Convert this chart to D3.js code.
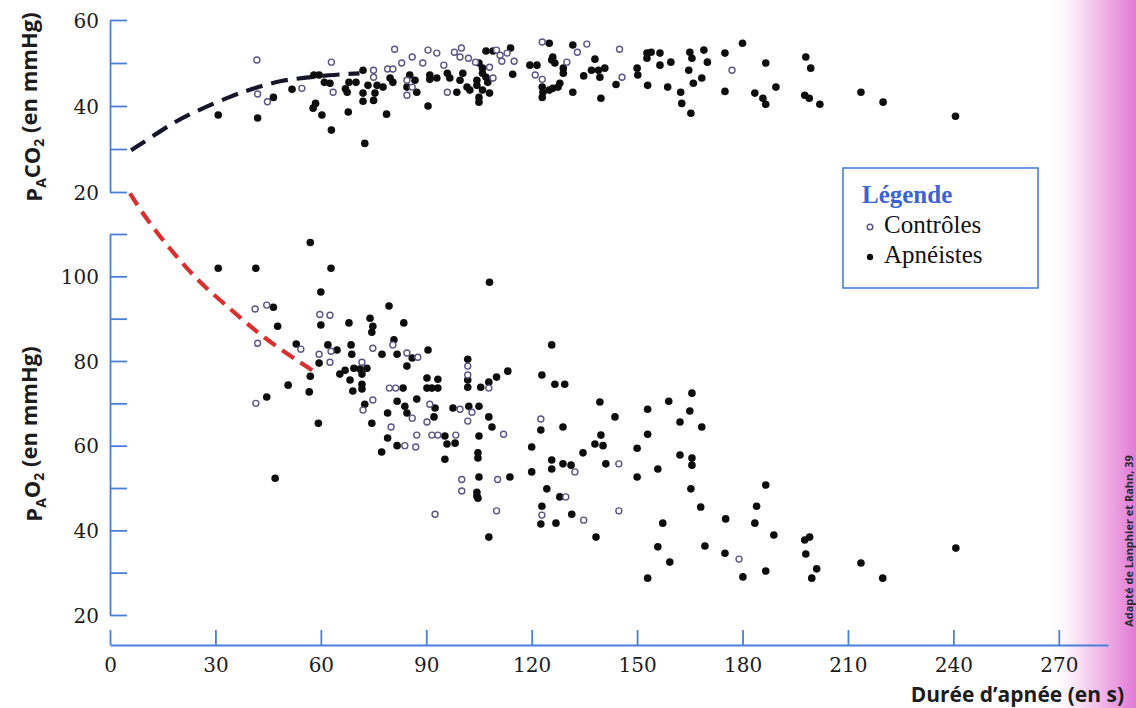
<!DOCTYPE html>
<html lang="fr">
<head>
<meta charset="utf-8">
<title>PACO2 et PAO2 selon la durée d'apnée</title>
<script src="https://cdn.jsdelivr.net/npm/d3@7"></script>
<style>
  body { margin: 0; background: #fff; }
  svg { display: block; }
  .axis path, .axis line { stroke: #4a7fdc; stroke-width: 1.8; }
  .axis text { font-family: "DejaVu Serif", serif; font-size: 20px; fill: #1c1c1c; }
  .title { font-family: "Open Sans", sans-serif; font-weight: 700; fill: #1c1c1c; }
  .legend text { font-family: "Liberation Serif", serif; font-size: 25px; fill: #111; }
  .legend .legend-head { fill: #3a63d6; font-weight: 700; }
  .credit { font-family: "Open Sans", sans-serif; font-weight: 700; font-size: 11px; fill: #2a2a2a; }
</style>
</head>
<body>
<div id="chart"></div>
<script>
// ticks
const timeTicks = [0, 30, 60, 90, 120, 150, 180, 210, 240, 270];
const co2Ticks = [20, 30, 40, 50, 60];
const co2Labels = [20, 40, 60];
const o2Ticks = [20, 30, 40, 50, 60, 70, 80, 90, 100, 110];
const o2Labels = [20, 40, 60, 80, 100];

// fitted curves [s, mmHg]
const co2Fit = [[6, 29.7], [11, 32.3], [18, 36.2], [25, 39], [35, 42.5], [42, 44.4], [49, 46], [55, 46.5], [62, 47.2], [71, 47.6]];
const o2Fit = [[5.7, 119.6], [10.5, 113.3], [18, 105.5], [25.6, 98.4], [34, 92.5], [40.4, 87.8], [47, 83.6], [54.6, 79.4], [59.2, 76.9]];

// PACO2 [s, mmHg]
const co2Controls = [
  [41.8, 50.7], [42, 42.8], [44.8, 41], [54.6, 44.1], [63, 50.2], [63.5, 43.2], [81, 53.2], [75, 48.3],
  [79, 48.6], [80.5, 48.6], [75, 46.7], [83, 50], [86, 51.4], [89, 50], [90.5, 53], [93, 52.3], [95, 49.5],
  [98, 52.5], [100, 53.5], [99.6, 51.4], [102, 51.1], [104, 50.2], [113, 52.3], [115, 50.4], [108, 49],
  [109, 46.5], [84.5, 46], [86, 44.4], [84.5, 42.5], [96, 43.2], [110, 53], [111, 51.8], [111.5, 50.4],
  [121, 47.2], [123, 46.2], [123, 54.9], [133, 52.5], [135.7, 54.4], [145, 53.2], [130, 50.2],
  [145.7, 46.7], [177, 48.3]
];
const co2Apneists = [
  [30.8, 37.9], [42, 37.2], [46.5, 42], [51.8, 43.9], [57.8, 39.5], [58.5, 40.6], [60.3, 37.9], [63, 34.4],
  [67.8, 38.6], [72.5, 31.3], [78.7, 38.1], [72, 41.1], [75, 41.3], [90.5, 40], [105, 40.9], [105, 42],
  [114.6, 47.4], [58, 47.2], [59.5, 47.2], [61, 45.5], [62.6, 45.3], [68, 45.5], [70, 45.5], [67, 44],
  [67.5, 43.2], [72, 48.3], [72, 43], [73.4, 44.8], [76, 44.8], [77.7, 44.4], [75.4, 43], [79.7, 46.5],
  [80.5, 45.5], [84.5, 44.4], [85.3, 47.2], [86.8, 46], [87.3, 43.2], [91, 47.2], [91, 46.2], [93, 46.5],
  [96, 47.6], [96.7, 46.5], [98.7, 43.2], [99.6, 46], [100.4, 47.6], [101.6, 44.4], [102.4, 43.7],
  [104.4, 44.8], [104.4, 46], [106, 47.6], [106, 48.8], [107, 46.7], [107.5, 45.5], [108, 43], [106, 43.7],
  [107, 52.8], [109, 52.8], [114, 53.5], [105, 50], [119.5, 49.5], [121.5, 49.5], [125, 54.6],
  [131.7, 54.2], [126, 51.4], [126.6, 50], [125.7, 50.7], [129, 48.8], [129, 47.6], [123, 44.4],
  [123.2, 43.2], [123, 42], [125, 43.7], [126, 44.1], [128, 45.3], [127.5, 44.4], [131.7, 43.2],
  [134.8, 47], [138, 50.9], [137, 48.3], [139, 48.3], [140.8, 48.8], [139.4, 46.7], [139.7, 41.8],
  [144, 45], [150, 48.8], [150.2, 47.2], [152.8, 52.3], [154, 52.5], [156.5, 52.3], [152.8, 51.1],
  [156.5, 49.5], [153, 44.8], [159.6, 50.2], [158.7, 44.4], [165, 52.5], [165.6, 51.1], [164.7, 48.3],
  [166, 45.3], [162.4, 43.2], [162.7, 40.6], [165.3, 38.3], [169, 53], [170, 50.2], [168.4, 46.5],
  [175, 52.3], [175, 43.4], [180, 54.6], [183.5, 43], [185.8, 41.8], [186.6, 40.4], [186.6, 50],
  [189.5, 44.4], [198, 51.4], [199.4, 48.8], [197.7, 42.5], [199, 41.8], [202, 40.4], [213.7, 43.2],
  [220, 40.9], [240.6, 37.6]
];

// PAO2 [s, mmHg]
const o2Controls = [
  [41.3, 92.3], [44.6, 93.2], [42, 84.2], [54.3, 82.8], [41.5, 70], [59.7, 91], [62.6, 90.8], [62.9, 82.3],
  [59.5, 81.6], [62.6, 79.7], [74.8, 83], [71.7, 79.7], [79.5, 73.6], [81.3, 73.6], [74.8, 70.8], [72, 68.4],
  [80, 64.4], [80.5, 83.8], [84.5, 81.9], [87.6, 80.9], [86, 66.5], [91, 69.8], [90.2, 65.6], [99.6, 68.6],
  [101.8, 78.8], [101.8, 76.7], [107.8, 73.6], [103, 67.9], [101.8, 65.8], [83.9, 60], [87.3, 62.5],
  [87, 59.7], [91.6, 62.5], [93.3, 62.5], [98.4, 62.5], [112, 62.7], [122.6, 66.3], [100.1, 52],
  [110.3, 52], [100.1, 49.3], [110, 44.6], [92.5, 43.8], [129.7, 47.9], [122.9, 43.6], [134.8, 42.4],
  [132.3, 53.8], [144.8, 55.7], [144.8, 44.6], [179, 33.2]
];
const o2Apneists = [
  [30.8, 101.9], [41.5, 101.9], [57, 108], [62.9, 101.9], [60, 96.3], [46.5, 92.7], [47.7, 88.2], [53, 84],
  [50.7, 74.3], [44.6, 71.5], [56.7, 72.7], [59.3, 65.3], [60, 88.5], [62, 83.8], [64.6, 82.6], [59.5, 79.5],
  [57, 76.4], [65.4, 76.9], [66.9, 77.8], [68, 89], [68.6, 83.8], [68.8, 81.6], [68.3, 75.5], [69.1, 72.9],
  [74, 90.1], [74.8, 88.2], [74.5, 86.8], [79.4, 93], [69.4, 78.3], [71.1, 78.1], [73.1, 78.3], [71.7, 76.9],
  [71.7, 74.5], [71.7, 73.4], [72.5, 69.8], [79, 67.7], [74.5, 65.3], [79, 61.8], [77.3, 58.5], [81.7, 60],
  [47, 52.3], [83.6, 89], [80.8, 85], [77.4, 81.6], [81.7, 81.6], [86, 80.7], [90.5, 82.6], [84.5, 78.8],
  [83.4, 73.6], [90.2, 76], [93.3, 75.7], [90.2, 73.6], [91.6, 73.6], [93.3, 73.6], [81.7, 70.5],
  [83.9, 69.3], [84.5, 67.7], [87.3, 71], [92.5, 68.9], [92.2, 66.8], [97.6, 68.9], [101.8, 80.4],
  [101.8, 75.5], [101.8, 73.8], [105.5, 73.8], [107.8, 75], [110, 76.2], [113.2, 77.6], [102.1, 69.3],
  [105, 69.3], [107.8, 66.8], [108.7, 64.4], [95.3, 62.3], [95.9, 60.4], [98.2, 60.6], [95.3, 56.8],
  [105, 62.3], [104.7, 58.3], [104.7, 57.1], [108, 98.6], [125.7, 83.8], [122.9, 76.7], [126.6, 74.5],
  [129.4, 74.5], [122.6, 63.7], [128.9, 64.4], [120, 59.7], [139.4, 70.3], [143.7, 66.8], [139.7, 62.5],
  [138, 60.4], [140.3, 60], [134.6, 58.3], [125.7, 56.6], [125.7, 54.5], [128.9, 55.7], [131.2, 55.4],
  [120, 53.8], [141.1, 55.7], [150, 59.4], [153, 68.6], [153, 62.7], [159, 70.5], [162.2, 65.6],
  [165.6, 72.4], [165, 68.2], [168.4, 64.4], [162.2, 57.8], [165.6, 57.1], [165.6, 55.4], [155.9, 54.5],
  [150, 52.6], [105, 52.6], [113.8, 52.6], [104.4, 49], [104.4, 48.1], [104.7, 47.6], [107.8, 38.4],
  [124.3, 49.8], [128, 47.9], [122.9, 45.7], [122.6, 41.5], [126.9, 41.7], [131.4, 43.8], [138.3, 38.4],
  [157.3, 41.7], [155.9, 36.1], [159.3, 32.5], [153, 28.7], [165.3, 49.8], [168.1, 45.5], [169.3, 36.3],
  [175.2, 42.7], [175, 34.6], [180.1, 29], [186.6, 50.7], [184, 45.7], [183.5, 41.7], [188.9, 38.9],
  [186.6, 30.4], [197.7, 37.7], [199.1, 38.4], [198, 34.4], [201.1, 30.9], [199.7, 28.7], [213.7, 32.3],
  [219.9, 28.7], [240.7, 35.8]
];

// dimensions
const WIDTH = 1136;
const HEIGHT = 708;
const X_AXIS_Y = 645;
const TICK = 17;

// scales
const scaleX = d3.scaleLinear().domain([0, 284]).range([110, 1108]);
const scaleCO2 = d3.scaleLinear().domain([20, 60]).range([192, 20]);
const scaleO2 = d3.scaleLinear().domain([20, 110]).range([615, 234]);

const $svg = d3.select("#chart").append("svg")
  .attr("width", WIDTH)
  .attr("height", HEIGHT);

// page edge tint
const $grad = $svg.append("defs").append("linearGradient")
  .attr("id", "edge").attr("x1", 0).attr("x2", 1).attr("y1", 0).attr("y2", 0);
$grad.append("stop").attr("offset", "0%").attr("stop-color", "#fff").attr("stop-opacity", 0);
$grad.append("stop").attr("offset", "45%").attr("stop-color", "#f6d2ef").attr("stop-opacity", 1);
$grad.append("stop").attr("offset", "100%").attr("stop-color", "#e27ad6");
$svg.append("rect").attr("x", 1045).attr("y", 0).attr("width", WIDTH - 1045).attr("height", HEIGHT)
  .attr("fill", "url(#edge)");

// axes
const fmt = labels => d => (labels.includes(d) ? d : "");

$svg.append("g").attr("class", "axis")
  .attr("transform", "translate(110,0)")
  .call(d3.axisLeft(scaleCO2).tickValues(co2Ticks).tickSizeInner(-TICK).tickSizeOuter(0)
    .tickPadding(11).tickFormat(fmt(co2Labels)));

$svg.append("g").attr("class", "axis")
  .attr("transform", "translate(110,0)")
  .call(d3.axisLeft(scaleO2).tickValues(o2Ticks).tickSizeInner(-TICK).tickSizeOuter(0)
    .tickPadding(11).tickFormat(fmt(o2Labels)));

$svg.selectAll(".axis .tick text").attr("dy", "0.36em");

$svg.append("g").attr("class", "axis")
  .attr("transform", `translate(0,${X_AXIS_Y})`)
  .call(d3.axisBottom(scaleX).tickValues(timeTicks).tickSizeInner(-15).tickSizeOuter(0).tickPadding(13));

// fitted curves
const line = (sy) => d3.line().x(d => scaleX(d[0])).y(d => sy(d[1])).curve(d3.curveBasis);

$svg.append("path").datum(co2Fit)
  .attr("d", line(scaleCO2))
  .attr("fill", "none").attr("stroke", "#16162a").attr("stroke-width", 4.2)
  .attr("stroke-dasharray", "17 9");

$svg.append("path").datum(o2Fit)
  .attr("d", line(scaleO2))
  .attr("fill", "none").attr("stroke", "#d8302e").attr("stroke-width", 4.2)
  .attr("stroke-dasharray", "14 8");

// points
function drawPoints(data, sy, open) {
  $svg.append("g").selectAll("circle")
    .data(data)
    .join("circle")
    .attr("cx", d => scaleX(d[0]))
    .attr("cy", d => sy(d[1]))
    .attr("r", open ? 3 : 3.8)
    .attr("fill", open ? "#fff" : "#0d0d0d")
    .attr("stroke", open ? "#5b5485" : "none")
    .attr("stroke-width", open ? 1.4 : 0);
}
drawPoints(co2Apneists, scaleCO2, false);
drawPoints(co2Controls, scaleCO2, true);
drawPoints(o2Apneists, scaleO2, false);
drawPoints(o2Controls, scaleO2, true);

// axis titles
function yTitle(x, y, gas) {
  const $t = $svg.append("text").attr("class", "title")
    .attr("transform", `translate(${x},${y}) rotate(-90)`)
    .attr("text-anchor", "middle")
    .style("font-size", "22px");
  $t.append("tspan").text("P");
  $t.append("tspan").attr("dy", "0.3em").style("font-size", "14px").text("A");
  $t.append("tspan").attr("dy", "-0.3em").text(gas);
  $t.append("tspan").attr("dy", "0.3em").style("font-size", "14px").text("2");
  $t.append("tspan").attr("dy", "-0.3em").text(" (en mmHg)");
}
yTitle(42, 107, "CO");
yTitle(42, 434, "O");

$svg.append("text").attr("class", "title")
  .attr("x", 1124).attr("y", 702)
  .attr("text-anchor", "end")
  .style("font-size", "21px")
  .text("Durée d’apnée (en s)");

// legend
const $legend = $svg.append("g").attr("class", "legend");
$legend.append("rect")
  .attr("x", 843).attr("y", 168).attr("width", 195).attr("height", 120)
  .attr("fill", "#fff").attr("stroke", "#4a7fdc").attr("stroke-width", 1.6);
$legend.append("text").attr("class", "legend-head").attr("x", 862).attr("y", 203).text("Légende");
const legendItems = [["Contrôles", true], ["Apnéistes", false]];
legendItems.forEach(([label, open], i) => {
  const y = 233 + i * 30;
  $legend.append("circle")
    .attr("cx", 870).attr("cy", y - 6)
    .attr("r", open ? 2.8 : 3.2)
    .attr("fill", open ? "#fff" : "#0d0d0d")
    .attr("stroke", open ? "#5b5485" : "none")
    .attr("stroke-width", 1.4);
  $legend.append("text").attr("x", 884).attr("y", y).text(label);
});

// source
$svg.append("text").attr("class", "credit")
  .attr("transform", "translate(1133,541) rotate(-90)")
  .attr("text-anchor", "middle")
  .text("Adapté de Lanphier et Rahn, 39");
</script>
</body>
</html>
